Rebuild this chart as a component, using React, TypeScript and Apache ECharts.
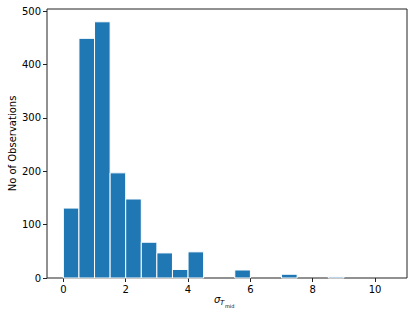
import React, { useEffect, useRef } from "react";
import * as echarts from "echarts";

const binStart = 0;
const binWidth = 0.5;
const counts = [131, 449, 480, 197, 148, 67, 47, 16, 49, 0, 0, 15, 0, 0, 7, 0, 0, 2, 0, 0, 0];
const xTicks = [0, 2, 4, 6, 8, 10];
const yTicks = [0, 100, 200, 300, 400, 500];
const yLabel = "No of Observations";

export default function App() {
  const ref = useRef<HTMLDivElement>(null);
  useEffect(() => {
    if (!ref.current) return;
    const chart = echarts.init(ref.current, undefined, { renderer: "svg" });
    const data = counts.map((c, i) => [binStart + i * binWidth, binStart + (i + 1) * binWidth, c]);
    const font = "DejaVu Sans";
    chart.setOption({
      animation: false,
      textStyle: { fontFamily: font },
      grid: {
        left: 47,
        right: 9,
        top: 9,
        bottom: 38,
        containLabel: false,
        outerBoundsMode: "none",
        show: true,
        borderColor: "#222",
        borderWidth: 1,
        backgroundColor: "transparent",
      },
      xAxis: {
        type: "value",
        min: -0.525,
        max: 11.025,
        splitLine: { show: false },
        axisLine: { show: false, onZero: false },
        axisTick: { show: true, length: 4, lineStyle: { color: "#222" }, customValues: xTicks },
        axisLabel: { color: "#000", fontSize: 10, fontFamily: font, margin: 6, customValues: xTicks },
      },
      yAxis: {
        type: "value",
        min: 0,
        max: 504,
        splitLine: { show: false },
        axisLine: { show: false, onZero: false },
        axisTick: { show: true, length: 4, lineStyle: { color: "#222" }, customValues: yTicks },
        axisLabel: { color: "#000", fontSize: 10, fontFamily: font, margin: 6, customValues: yTicks },
        name: yLabel,
        nameLocation: "middle",
        nameGap: 30,
        nameMoveOverlap: false,
        nameTextStyle: { color: "#000", fontSize: 10, fontFamily: font },
      },
      graphic: [
        {
          type: "group",
          left: 214,
          top: 294,
          children: [
            { type: "text", x: 0, y: 0, style: { text: "σ", font: `italic 10px ${font}`, fill: "#000" } },
            { type: "text", x: 6, y: 5, style: { text: "T", font: `italic 7px ${font}`, fill: "#000" } },
            { type: "text", x: 11, y: 9, style: { text: "mid", font: `5px ${font}`, fill: "#000" } },
          ],
        },
      ],
      series: [
        {
          type: "custom",
          data,
          encode: { x: [0, 1], y: 2 },
          renderItem: (params: any, api: any) => {
            const x0 = api.value(0);
            const x1 = api.value(1);
            const v = api.value(2);
            if (!v) return null;
            const p0 = api.coord([x0, v]);
            const p1 = api.coord([x1, 0]);
            return {
              type: "rect",
              shape: { x: p0[0], y: p0[1], width: p1[0] - p0[0], height: p1[1] - p0[1] },
              style: { fill: "#1f77b4", stroke: "#ffffff", lineWidth: 1 },
            };
          },
        },
      ],
    });
    return () => chart.dispose();
  }, []);
  return <div ref={ref} style={{ width: 416, height: 316, position: "absolute", left: 0, top: 0 }} />;
}
